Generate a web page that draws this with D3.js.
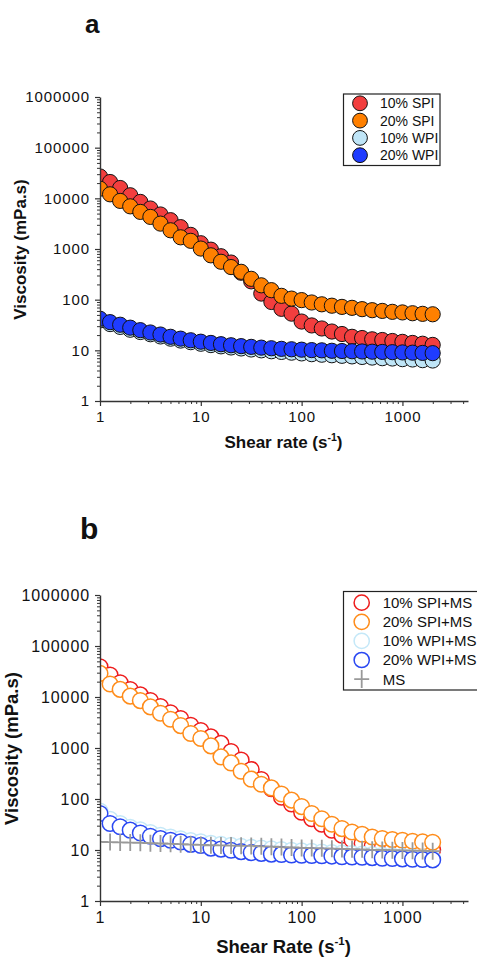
<!DOCTYPE html>
<html>
<head>
<meta charset="utf-8">
<script src="https://cdn.jsdelivr.net/npm/d3@7"></script>
<style>
  html, body { margin: 0; padding: 0; background: #fff; }
  svg { display: block; }
  text { font-family: "Liberation Sans", Arial, sans-serif; fill: #111; }
</style>
</head>
<body>
<svg id="chart" width="477" height="958"></svg>
<script>
// ---- data ----
const shearRate = [1, 1.259, 1.585, 1.995, 2.512, 3.162, 3.981, 5.012, 6.31, 7.943,
  10, 12.59, 15.85, 19.95, 25.12, 31.62, 39.81, 50.12, 63.1, 79.43,
  100, 125.9, 158.5, 199.5, 251.2, 316.2, 398.1, 501.2, 631, 794.3,
  1000, 1259, 1585, 1995];

// panel a
const spi10 = [27000, 21000, 16000, 11500, 8500, 6300, 4800, 3700, 2700, 1900, 1300, 970, 720, 540, 340, 230, 132, 90, 66, 53, 37, 31, 27, 23.5, 21, 18.5, 17.5, 16.5, 16, 15.3, 14.7, 14, 13.5, 12.8];
const spi20 = [15500, 12000, 8900, 6950, 5400, 4300, 3170, 2340, 1700, 1450, 1020, 750, 560, 440, 355, 258, 192, 154, 119, 105, 98, 88, 81, 76, 72, 69, 65, 62, 60, 57.5, 56, 54, 52.5, 51.5];
const wpi10 = [39, 33, 29, 25.5, 23, 20.8, 18.8, 17, 15.6, 14.5, 13.5, 12.7, 12, 11.4, 10.9, 10.4, 10, 9.6, 9.3, 9, 8.7, 8.4, 8.2, 8, 7.8, 7.6, 7.4, 7.2, 7, 6.9, 6.7, 6.6, 6.4, 6.3];
const wpi20 = [42, 36, 32, 28, 25, 22.5, 20.5, 18.5, 17, 15.8, 14.8, 14, 13.2, 12.6, 12.1, 11.7, 11.3, 11, 10.7, 10.5, 10.3, 10.1, 10, 9.8, 9.7, 9.6, 9.5, 9.4, 9.3, 9.2, 9.1, 9, 8.9, 8.8];

// panel b
const spi10ms = [39000, 27000, 19000, 14000, 11000, 8500, 6500, 4900, 3800, 2800, 2200, 1650, 1230, 850, 580, 380, 240, 160, 108, 80, 55, 41, 32, 24.5, 19.5, 15.7, 13.4, 11.8, 11.2, 10.8, 10.5, 10.3, 10.1, 10];
const spi20ms = [29000, 18000, 14100, 10400, 8500, 6400, 4800, 3650, 2750, 1930, 1540, 1100, 670, 510, 350, 245, 195, 165, 125, 95, 71, 52, 41, 32, 26.3, 22.6, 20.4, 18, 16.8, 16, 15.5, 14.8, 14.4, 14.2];
const wpi10ms = [58, 40, 33, 28, 25, 22, 19.5, 18, 16.6, 15.4, 14.5, 13.6, 12.9, 12.3, 11.8, 11.3, 10.9, 10.5, 10.2, 9.9, 9.6, 9.4, 9.1, 8.9, 8.7, 8.5, 8.3, 8.1, 7.9, 7.7, 7.5, 7.3, 7.1, 6.9];
const wpi20ms = [52, 33, 28.5, 24.5, 21.6, 18.6, 16.7, 15.5, 14.4, 12.9, 12.3, 10.9, 10.4, 9.9, 9.3, 8.9, 8.6, 8.3, 8.2, 8, 7.9, 7.8, 7.7, 7.6, 7.4, 7.3, 7.2, 7.1, 6.9, 6.8, 6.7, 6.6, 6.5, 6.4];
const ms = [14.4, 14.3, 14.1, 14, 13.8, 13.6, 13.4, 13.2, 13, 12.8, 12.6, 12.4, 12.3, 12.2, 12.1, 12, 11.8, 11.6, 11.4, 11.2, 11, 10.9, 10.8, 10.6, 10.5, 10.4, 10.3, 10.1, 10, 9.9, 9.8, 9.7, 9.6, 9.5];

const yTicks = [1, 10, 100, 1000, 10000, 100000, 1000000];
const xTicks = [1, 10, 100, 1000];
const seriesNamesA = ["10% SPI", "20% SPI", "10% WPI", "20% WPI"];
const seriesNamesB = ["10% SPI+MS", "20% SPI+MS", "10% WPI+MS", "20% WPI+MS", "MS"];
const colorsA = ["#f23e3e", "#ff8000", "#bfe5f7", "#1f3cff"];
const colorsB = ["#ee1c1c", "#ff8c1a", "#c4e8f8", "#2a48f2", "#999999"];

// ---- drawing ----
const svg = d3.select("#chart");
const xMin = 1, xMax = 4470;
const xRange = [100, 468];

function drawAxes(g, x, y, opt) {
  const yMinor = [];
  for (let d = 1; d < 1e6; d *= 10) for (let m = 2; m <= 9; m++) yMinor.push(d * m);
  const xMinor = [];
  for (let d = 1; d <= 1000; d *= 10) for (let m = 2; m <= 9; m++) if (d * m < xMax) xMinor.push(d * m);

  const axisColor = "#333";
  g.append("g").attr("transform", `translate(${xRange[0]},0)`)
    .call(d3.axisLeft(y).tickValues(yMinor).tickSize(3).tickFormat(""))
    .call(s => { s.select(".domain").remove(); s.selectAll("line").attr("stroke", axisColor); });
  g.append("g").attr("transform", `translate(0,${opt.bottom})`)
    .call(d3.axisBottom(x).tickValues(xMinor).tickSize(3).tickFormat(""))
    .call(s => { s.select(".domain").remove(); s.selectAll("line").attr("stroke", axisColor); });

  const ya = g.append("g").attr("transform", `translate(${xRange[0]},0)`)
    .call(d3.axisLeft(y).tickValues(yTicks).tickSize(5).tickPadding(5).tickSizeOuter(0).tickFormat(d3.format("d")));
  ya.select(".domain").attr("stroke", axisColor).attr("stroke-width", 1.4);
  ya.selectAll("line").attr("stroke", axisColor).attr("stroke-width", 1.2);
  ya.selectAll("text").attr("font-size", opt.tickFont).attr("letter-spacing", opt.tickSpacing)
    .attr("fill", "#111").style("font-family", "Liberation Sans, Arial, sans-serif");

  const xa = g.append("g").attr("transform", `translate(0,${opt.bottom})`)
    .call(d3.axisBottom(x).tickValues(xTicks).tickSize(5).tickPadding(opt.xPad).tickSizeOuter(0).tickFormat(d3.format("d")));
  xa.select(".domain").attr("stroke", axisColor).attr("stroke-width", 1.4);
  xa.selectAll("line").attr("stroke", axisColor).attr("stroke-width", 1.2);
  xa.selectAll("text").attr("font-size", opt.tickFont).attr("letter-spacing", opt.tickSpacing)
    .attr("fill", "#111").style("font-family", "Liberation Sans, Arial, sans-serif");

  const xt = g.append("text").attr("x", 283.5).attr("y", opt.xTitleY)
    .attr("text-anchor", "middle").attr("font-weight", "bold").attr("font-size", opt.titleFont);
  xt.append("tspan").text(opt.xTitle + " (s");
  xt.append("tspan").attr("font-size", opt.titleFont * 0.62).attr("dy", -opt.titleFont * 0.42).text("-1");
  xt.append("tspan").attr("dy", opt.titleFont * 0.42).text(")");

  g.append("text").attr("transform", `translate(${opt.yTitleX},${opt.yTitleY}) rotate(-90)`)
    .attr("text-anchor", "middle").attr("font-weight", "bold").attr("font-size", opt.titleFont)
    .text("Viscosity (mPa.s)");
}

function panel(opt) {
  const g = svg.append("g");
  const x = d3.scaleLog().domain([xMin, xMax]).range(xRange);
  const y = d3.scaleLog().domain([1, 1e6]).range([opt.bottom, opt.top]);

  const clipId = "clip-" + opt.id;
  svg.append("clipPath").attr("id", clipId).append("rect")
    .attr("x", xRange[0]).attr("y", opt.top - 10).attr("width", xRange[1] - xRange[0] + 10).attr("height", opt.bottom - opt.top + 10);

  const plot = g.append("g").attr("clip-path", `url(#${clipId})`);
  opt.series.forEach((vals, i) => {
    const data = shearRate.map((s, j) => ({ s, v: vals[j] }));
    if (opt.kinds[i] === "plus") {
      plot.append("path")
        .attr("d", data.map(d => {
          const cx = x(d.s), cy = y(d.v);
          return `M${cx - 8},${cy}H${cx + 8}M${cx},${cy - 8.5}V${cy + 8.5}`;
        }).join(""))
        .attr("stroke", opt.colors[i]).attr("stroke-width", 1.8).attr("fill", "none");
    } else {
      plot.append("g").selectAll("circle").data(data).join("circle")
        .attr("cx", d => x(d.s)).attr("cy", d => y(d.v)).attr("r", opt.r)
        .attr("fill", opt.kinds[i] === "filled" ? opt.colors[i] : "#fff")
        .attr("stroke", opt.kinds[i] === "filled" ? "#111" : opt.colors[i])
        .attr("stroke-width", opt.kinds[i] === "filled" ? 1 : 1.5);
    }
  });

  drawAxes(g, x, y, opt);

  g.append("text").attr("x", opt.letterX).attr("y", opt.letterY).attr("font-weight", "bold")
    .attr("font-size", opt.letterFont).text(opt.letter);

  const L = opt.legend;
  g.append("rect").attr("x", L.x).attr("y", L.y).attr("width", L.w).attr("height", L.h)
    .attr("fill", "#fff").attr("stroke", "#222").attr("stroke-width", 1.2);
  opt.names.forEach((name, i) => {
    const cy = L.y0 + i * L.dy;
    if (opt.kinds[i] === "plus") {
      g.append("path").attr("d", `M${L.cx - 7.5},${cy}H${L.cx + 7.5}M${L.cx},${cy - 9}V${cy + 9}`)
        .attr("stroke", opt.colors[i]).attr("stroke-width", 1.8).attr("fill", "none");
    } else {
      g.append("circle").attr("cx", L.cx).attr("cy", cy).attr("r", L.r)
        .attr("fill", opt.kinds[i] === "filled" ? opt.colors[i] : "#fff")
        .attr("stroke", opt.kinds[i] === "filled" ? "#111" : opt.colors[i])
        .attr("stroke-width", opt.kinds[i] === "filled" ? 1 : 1.5);
    }
    g.append("text").attr("x", L.tx).attr("y", cy).attr("dy", "0.36em")
      .attr("font-size", L.font).text(name);
  });
}

panel({
  id: "a", top: 97, bottom: 401, letter: "a", letterX: 85, letterY: 33, letterFont: 26,
  series: [spi10, spi20, wpi10, wpi20], names: seriesNamesA, colors: colorsA,
  kinds: ["filled", "filled", "filled", "filled"], r: 7.6,
  tickFont: 15, tickSpacing: 0.9, xPad: 5, titleFont: 17, xTitle: "Shear rate",
  xTitleY: 448, yTitleX: 26, yTitleY: 249.5,
  legend: { x: 343.5, y: 94, w: 96.5, h: 71.5, y0: 103.3, dy: 17.3, cx: 360, r: 7.4, tx: 380, font: 14 }
});

panel({
  id: "b", top: 595, bottom: 901, letter: "b", letterX: 80, letterY: 539, letterFont: 30,
  series: [spi10ms, spi20ms, wpi10ms, wpi20ms, ms], names: seriesNamesB, colors: colorsB,
  kinds: ["open", "open", "open", "open", "plus"], r: 7.8,
  tickFont: 16, tickSpacing: 0.9, xPad: 6, titleFont: 18.5, xTitle: "Shear Rate",
  xTitleY: 953, yTitleX: 18, yTitleY: 748.5,
  legend: { x: 343.5, y: 591.5, w: 150, h: 98.5, y0: 602.7, dy: 19.1, cx: 361.7, r: 7.6, tx: 382.7, font: 15 }
});
</script>
</body>
</html>
